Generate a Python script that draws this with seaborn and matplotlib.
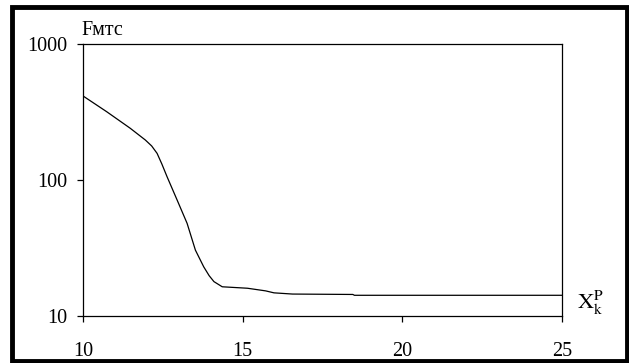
import matplotlib
matplotlib.use("Agg")
import matplotlib.pyplot as plt
import seaborn as sns
import pandas as pd
from matplotlib.patches import Rectangle

x_vals = [10.0, 10.74, 11.48, 11.95, 12.15, 12.32, 12.47, 12.63, 12.95, 13.26, 13.52, 13.78,
          13.95, 14.1, 14.36, 15.15, 15.72, 15.98, 16.56, 18.45, 18.5, 25.0]
f_vals = [415, 318, 240, 197, 178, 157, 131, 106, 71, 48, 30.5, 23,
          19.8, 17.9, 16.4, 16.0, 15.3, 14.8, 14.5, 14.4, 14.2, 14.2]
x_ticks = [10, 15, 20, 25]
y_ticks = [10, 100, 1000]
y_label = "Fмтс"
x_label = r"$\mathrm{X}_\mathrm{k}^\mathrm{P}$"

sns.set_theme(style="white")
plt.rcParams['font.family'] = ['Liberation Serif', 'DejaVu Serif']
plt.rcParams['mathtext.fontset'] = 'stix'

df = pd.DataFrame({"x": x_vals, "F": f_vals})

fig = plt.figure(figsize=(6.29, 3.63), dpi=100)
ax = fig.add_axes([83/629, 1-316/363, (562-83)/629, (316-44)/363])
sns.lineplot(data=df, x="x", y="F", ax=ax, color="black", linewidth=0.9)
ax.set_yscale("log")
ax.set_xlim(10, 25)
ax.set_ylim(10, 1000)
ax.set_xticks(x_ticks)
ax.set_xticklabels([str(t) for t in x_ticks])
ax.set_yticks(y_ticks)
ax.set_yticklabels([str(t) for t in y_ticks])
ax.minorticks_off()
ax.set_xlabel("")
ax.set_ylabel("")
for s in ax.spines.values():
    s.set_visible(True)
    s.set_color("black")
    s.set_linewidth(0.9)
ax.tick_params(axis="x", direction="out", length=4, width=0.9, color="black",
               pad=15, labelsize=14.5, labelcolor="black", bottom=True)
ax.tick_params(axis="y", direction="out", length=4.5, width=0.9, color="black",
               pad=7, labelsize=14.5, labelcolor="black", left=True)

fig.text(81/629, 1-35/363, y_label, fontsize=14.5, ha="left", va="baseline", color="black")
fig.text(577/629, 1-309/363, x_label, fontsize=16, ha="left", va="baseline", color="black")

fig.patches.append(Rectangle((12/629, 2.5/363), 614.5/629, 354/363, transform=fig.transFigure,
                             fill=False, edgecolor="black", linewidth=3.5))

fig.savefig("out.png", dpi=100)
